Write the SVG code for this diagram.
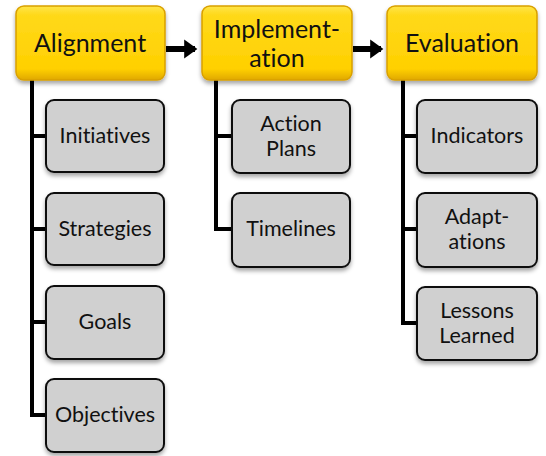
<svg xmlns="http://www.w3.org/2000/svg" width="546" height="456" viewBox="0 0 546 456">
<defs>
<linearGradient id="yg" x1="0" y1="0" x2="0" y2="1">
<stop offset="0" stop-color="#FFE54A"/>
<stop offset="0.12" stop-color="#FFD91A"/>
<stop offset="0.85" stop-color="#FFD000"/>
<stop offset="1" stop-color="#E0A800"/>
</linearGradient>
<filter id="sh" x="-10%" y="-10%" width="120%" height="130%">
<feDropShadow dx="0" dy="3" stdDeviation="2" flood-color="#000" flood-opacity="0.35"/>
</filter>
<marker id="ah" markerWidth="4" markerHeight="4" refX="1.8" refY="2" orient="auto" markerUnits="strokeWidth">
<path d="M0,0.4 L2.2,2 L0,3.6 Z" fill="#000"/>
</marker>
</defs>
<style>
.main rect{fill:url(#yg);stroke:#D9A000;stroke-width:1.5;filter:url(#sh)}
.sub rect{fill:#D0D0D0;stroke:#111;stroke-width:2;filter:url(#sh)}
text{font-family:Lato,"Open Sans",sans-serif;fill:#111;text-anchor:middle;font-variant-ligatures:none;font-feature-settings:"liga" 0,"dlig" 0}
.main text{font-size:25px}
.sub text{font-size:21.5px}
.conn path{fill:none;stroke:#000;stroke-width:4}
.arr{fill:none;stroke:#000;stroke-width:6;marker-end:url(#ah)}
</style>
<g id="connectors" class="conn">
<path d="M32,80 V415 H46 M32,136 H46 M32,229 H46 M32,322 H46"/>
<path d="M216,80 V229 H232 M216,136 H232"/>
<path d="M403,80 V323 H417 M403,136 H417 M403,229 H417"/>
<line class="arr" x1="166" y1="49" x2="195" y2="49"/>
<line class="arr" x1="353" y1="49" x2="381" y2="49"/>
</g>
<g id="alignment" class="main"><rect x="16" y="6" width="149" height="74" rx="8"/><text x="90" y="52">Alignment</text></g>
<g id="implementation" class="main"><rect x="202" y="6" width="150" height="74" rx="8"/><text x="277" y="38">Implement-</text><text x="277" y="67">ation</text></g>
<g id="evaluation" class="main"><rect x="387" y="6" width="150" height="74" rx="8"/><text x="462" y="52">Evaluation</text></g>
<g id="initiatives" class="sub"><rect x="46" y="100" width="118" height="72" rx="8"/><text x="105" y="143">Initiatives</text></g>
<g id="strategies" class="sub"><rect x="46" y="193" width="118" height="72" rx="8"/><text x="105" y="236">Strategies</text></g>
<g id="goals" class="sub"><rect x="46" y="286" width="118" height="73" rx="8"/><text x="105" y="329">Goals</text></g>
<g id="objectives" class="sub"><rect x="46" y="379" width="118" height="73" rx="8"/><text x="105" y="422">Objectives</text></g>
<g id="action-plans" class="sub"><rect x="232" y="100" width="118" height="73" rx="8"/><text x="291" y="131">Action</text><text x="291" y="156">Plans</text></g>
<g id="timelines" class="sub"><rect x="232" y="193" width="118" height="74" rx="8"/><text x="291" y="236">Timelines</text></g>
<g id="indicators" class="sub"><rect x="417" y="100" width="120" height="73" rx="8"/><text x="477" y="143">Indicators</text></g>
<g id="adaptations" class="sub"><rect x="417" y="193" width="120" height="74" rx="8"/><text x="477" y="224">Adapt-</text><text x="477" y="249">ations</text></g>
<g id="lessons-learned" class="sub"><rect x="417" y="287" width="120" height="73" rx="8"/><text x="477" y="318">Lessons</text><text x="477" y="343">Learned</text></g>
</svg>
